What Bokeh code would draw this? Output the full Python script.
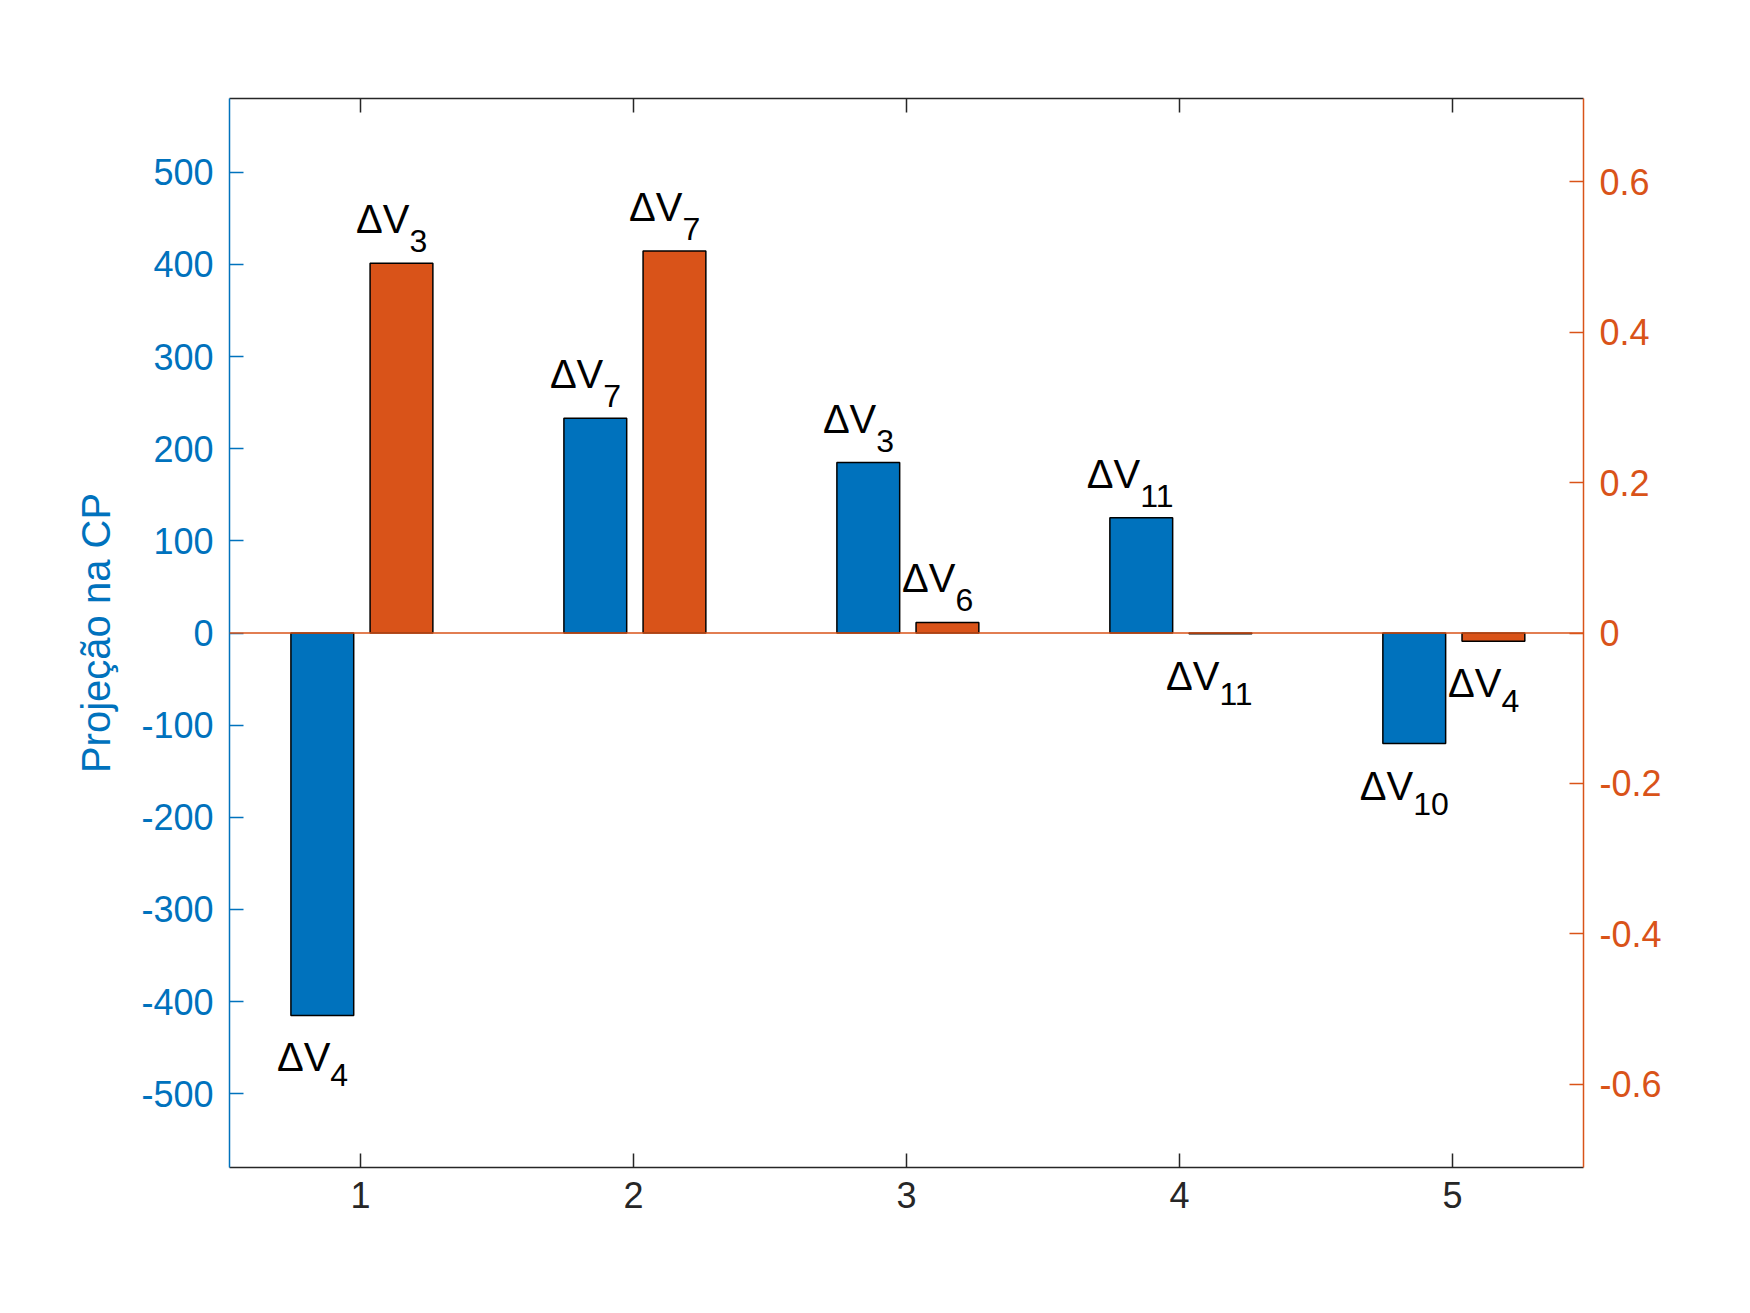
import math
from bokeh.plotting import figure
from bokeh.models import Range1d, LinearAxis, Span, FixedTicker, CustomJSTickFormatter, Label
from bokeh.core.properties import value
from bokeh.embed import file_html
from bokeh.resources import INLINE

modes = [1, 2, 3, 4, 5]
projecao = [-415, 233, 185, 125, -120]
fator = [0.492, 0.508, 0.014, -0.001, -0.011]
proj_sub = ["4", "7", "3", "11", "10"]
fator_sub = ["3", "7", "6", "11", "4"]

BLUE = "#0072BD"
ORANGE = "#D95319"
FONT = "Liberation Sans"

p = figure(frame_width=1354, frame_height=1069, output_backend="svg", toolbar_location=None,
           x_range=Range1d(0.52, 5.48), y_range=Range1d(-580, 580),
           min_border_left=229, min_border_top=98, min_border_right=159, min_border_bottom=130)
p.extra_y_ranges = {"fp": Range1d(-0.711, 0.711)}
p.grid.visible = False
p.outline_line_color = None
p.background_fill_color = "white"

w = 0.23
p.vbar(x=[m - 0.14 for m in modes], top=projecao, bottom=0, width=w,
       fill_color=BLUE, line_color="black", line_width=1.5)
p.vbar(x=[m + 0.15 for m in modes], top=fator, bottom=0, width=w,
       fill_color=ORANGE, line_color="black", line_width=1.5, y_range_name="fp")
p.add_layout(Span(location=0, dimension="width", line_color=ORANGE, line_width=1.5))


def labels(xs, ys, subs, rng):
    for x, y, s in zip(xs, ys, subs):
        shift = -9 * (len(s) - 1)
        kw = {} if rng is None else {"y_range_name": rng}
        if y >= 0:
            yo_main, yo_sub = -44, -22
        else:
            yo_main, yo_sub = 42, 60
        p.text(x=[x], y=[y], text=["ΔV"], text_align="right", text_baseline="alphabetic",
               x_offset=8 + shift, y_offset=yo_main, text_font=value(FONT),
               text_font_size="40px", text_color="black", **kw)
        p.text(x=[x], y=[y], text=[s], text_align="left", text_baseline="alphabetic",
               x_offset=8 + shift, y_offset=yo_sub, text_font=value(FONT),
               text_font_size="32px", text_color="black", **kw)


labels([m - 0.14 for m in modes], projecao, proj_sub, None)
labels([m + 0.15 for m in modes], fator, fator_sub, "fp")

plain = CustomJSTickFormatter(code="return String(Number(tick.toFixed(1)));")


def style(ax, color):
    ax.axis_line_color = color
    ax.axis_line_width = 1.5
    ax.major_tick_line_color = color
    ax.major_tick_line_width = 1.5
    ax.major_tick_in = 14
    ax.major_tick_out = 0
    ax.minor_tick_line_color = None
    ax.major_label_text_color = color
    ax.major_label_text_font = FONT
    ax.major_label_text_font_size = "36px"
    ax.axis_label_text_color = color
    ax.axis_label_text_font = FONT
    ax.axis_label_text_font_size = "40px"
    ax.axis_label_text_font_style = "normal"
    ax.formatter = plain


p.xaxis.ticker = FixedTicker(ticks=modes)
style(p.xaxis[0], "#262626")
p.xaxis[0].major_label_standoff = 14

p.yaxis.ticker = FixedTicker(ticks=list(range(-500, 501, 100)))
style(p.yaxis[0], BLUE)
p.yaxis[0].axis_label = "Projeção na CP"
p.yaxis[0].major_label_standoff = 16
p.yaxis[0].axis_label_standoff = 20

right = LinearAxis(y_range_name="fp",
                   ticker=FixedTicker(ticks=[-0.6, -0.4, -0.2, 0, 0.2, 0.4, 0.6]))
style(right, ORANGE)
right.major_label_standoff = 16
p.add_layout(right, "right")

p.add_layout(Label(x=1712, y=672, x_units="screen", y_units="screen",
                   text="Fator de Participação", angle=math.pi / 2,
                   text_align="center", text_baseline="middle", text_color=ORANGE,
                   text_font=FONT, text_font_size="40px"))

top = LinearAxis(ticker=FixedTicker(ticks=modes))
style(top, "#262626")
top.major_label_text_alpha = 0
top.major_label_text_font_size = "1px"
top.major_label_standoff = 0
p.add_layout(top, "above")

open("out.html", "w").write(file_html(p, INLINE))
